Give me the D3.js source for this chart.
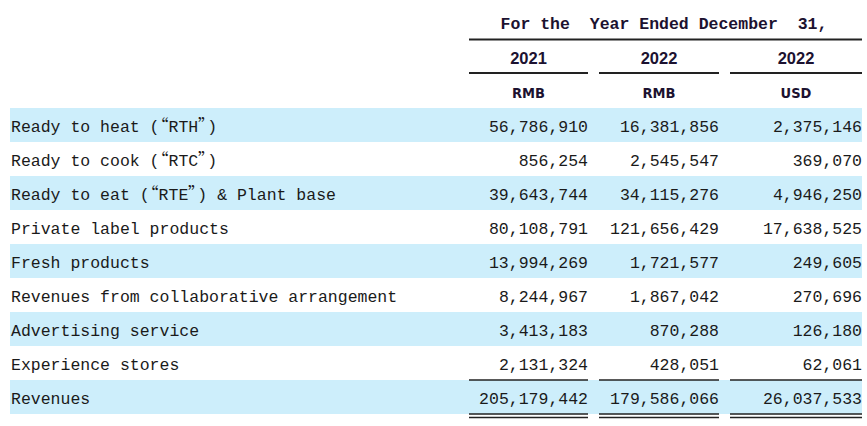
<!DOCTYPE html>
<html lang="en">
<head>
<meta charset="UTF-8">
<title>Revenues by product line</title>
<script src="https://d3js.org/d3.v7.min.js"></script>
<style>
    /* full-width curly quotes like the SimSun original */
    @font-face {
        font-family: "WideQuote";
        src: local("Noto Sans CJK SC"), local("Noto Sans CJK SC Regular"), local("NotoSansCJKsc-Regular");
        unicode-range: U+201C-201D;
    }
    body { margin: 0; background: #fff; }
    .label, .num { font-family: "WideQuote", "Liberation Mono", monospace; font-size: 16.5px; fill: #1a1a1a; }
    .head { font-family: "Liberation Mono", monospace; font-weight: bold; font-size: 16.5px; fill: #1c1230; }
    .year { font-family: "Liberation Sans", Arial, sans-serif; font-weight: bold; font-size: 16.5px; fill: #1c1230; }
    .cur { font-family: "Liberation Sans Narrow", "DejaVu Sans Condensed", sans-serif; font-weight: bold; font-size: 14.5px; fill: #1c1230; }
</style>
</head>
<body>
<svg id="table"></svg>
<script>
    // table data
    var categories = [
        "Ready to heat (\u201cRTH\u201d)",
        "Ready to cook (\u201cRTC\u201d)",
        "Ready to eat (\u201cRTE\u201d) & Plant base",
        "Private label products",
        "Fresh products",
        "Revenues from collaborative arrangement",
        "Advertising service",
        "Experience stores",
        "Revenues"
    ];
    var rmb2021 = [56786910, 856254, 39643744, 80108791, 13994269, 8244967, 3413183, 2131324, 205179442];
    var rmb2022 = [16381856, 2545547, 34115276, 121656429, 1721577, 1867042, 870288, 428051, 179586066];
    var usd2022 = [2375146, 369070, 4946250, 17638525, 249605, 270696, 126180, 62061, 26037533];
    var years = ["2021", "2022", "2022"];
    var currencies = ["RMB", "RMB", "USD"];
    var title = "For the  Year Ended December  31,";

    var W = 867, H = 426;
    var svg = d3.select("#table").attr("width", W).attr("height", H);

    // rows
    var y = d3.scaleBand()
        .domain(d3.range(categories.length))
        .range([108, 414]);

    // columns: left/right edges of each value column
    var colIdx = d3.range(3);
    var colLeft = d3.scaleOrdinal().domain(colIdx).range([469, 599, 730]);
    var colRight = d3.scaleOrdinal().domain(colIdx).range([588, 719, 862]);

    var fmt = d3.format(",");
    var series = [rmb2021, rmb2022, usd2022];

    // striped bands
    svg.selectAll(".band")
        .data(d3.range(categories.length).filter(i => i % 2 === 0))
        .enter().append("rect")
        .attr("class", "band")
        .attr("x", 10)
        .attr("width", 852)
        .attr("y", i => y(i))
        .attr("height", y.bandwidth())
        .attr("fill", "#cdeefb");

    // header
    svg.append("text")
        .attr("class", "head")
        .attr("x", 664).attr("y", 24)
        .attr("text-anchor", "middle")
        .attr("dominant-baseline", "central")
        .style("white-space", "pre")
        .text(title);

    svg.append("line")
        .attr("x1", 469).attr("x2", 862)
        .attr("y1", 39.5).attr("y2", 39.5)
        .attr("stroke", "#222").attr("stroke-width", 2);

    svg.selectAll(".year")
        .data(colIdx)
        .enter().append("text")
        .attr("class", "year")
        .attr("x", i => (colLeft(i) + colRight(i)) / 2)
        .attr("y", 58)
        .attr("text-anchor", "middle")
        .attr("dominant-baseline", "central")
        .text(i => years[i]);

    svg.selectAll(".yline")
        .data(colIdx)
        .enter().append("line")
        .attr("class", "yline")
        .attr("x1", i => colLeft(i)).attr("x2", i => colRight(i))
        .attr("y1", 73).attr("y2", 73)
        .attr("stroke", "#222").attr("stroke-width", 2);

    svg.selectAll(".cur")
        .data(colIdx)
        .enter().append("text")
        .attr("class", "cur")
        .attr("x", i => (colLeft(i) + colRight(i)) / 2)
        .attr("y", 93)
        .attr("text-anchor", "middle")
        .attr("dominant-baseline", "central")
        .text(i => currencies[i]);

    // row labels
    svg.selectAll(".label")
        .data(categories)
        .enter().append("text")
        .attr("class", "label")
        .attr("x", 11)
        .attr("y", (d, i) => y(i) + y.bandwidth() / 2 + 2)
        .attr("dominant-baseline", "central")
        .text(d => d);

    // values
    colIdx.forEach(function(c) {
        svg.selectAll(".num-" + c)
            .data(series[c])
            .enter().append("text")
            .attr("class", "num num-" + c)
            .attr("x", colRight(c))
            .attr("y", (d, i) => y(i) + y.bandwidth() / 2 + 2)
            .attr("text-anchor", "end")
            .attr("dominant-baseline", "central")
            .text(d => fmt(d));
    });

    // subtotal rule above the total row, double rule below it
    var last = categories.length - 1;
    svg.selectAll(".sub")
        .data(colIdx)
        .enter().append("line")
        .attr("class", "sub")
        .attr("x1", i => colLeft(i)).attr("x2", i => colRight(i))
        .attr("y1", y(last)).attr("y2", y(last))
        .attr("stroke", "#222").attr("stroke-width", 1.6);

    [0, 3.5].forEach(function(off, k) {
        svg.selectAll(".dbl-" + k)
            .data(colIdx)
            .enter().append("line")
            .attr("class", "dbl-" + k)
            .attr("x1", i => colLeft(i)).attr("x2", i => colRight(i))
            .attr("y1", y(last) + y.bandwidth() + off)
            .attr("y2", y(last) + y.bandwidth() + off)
            .attr("stroke", "#222").attr("stroke-width", 1.5);
    });
</script>
</body>
</html>
